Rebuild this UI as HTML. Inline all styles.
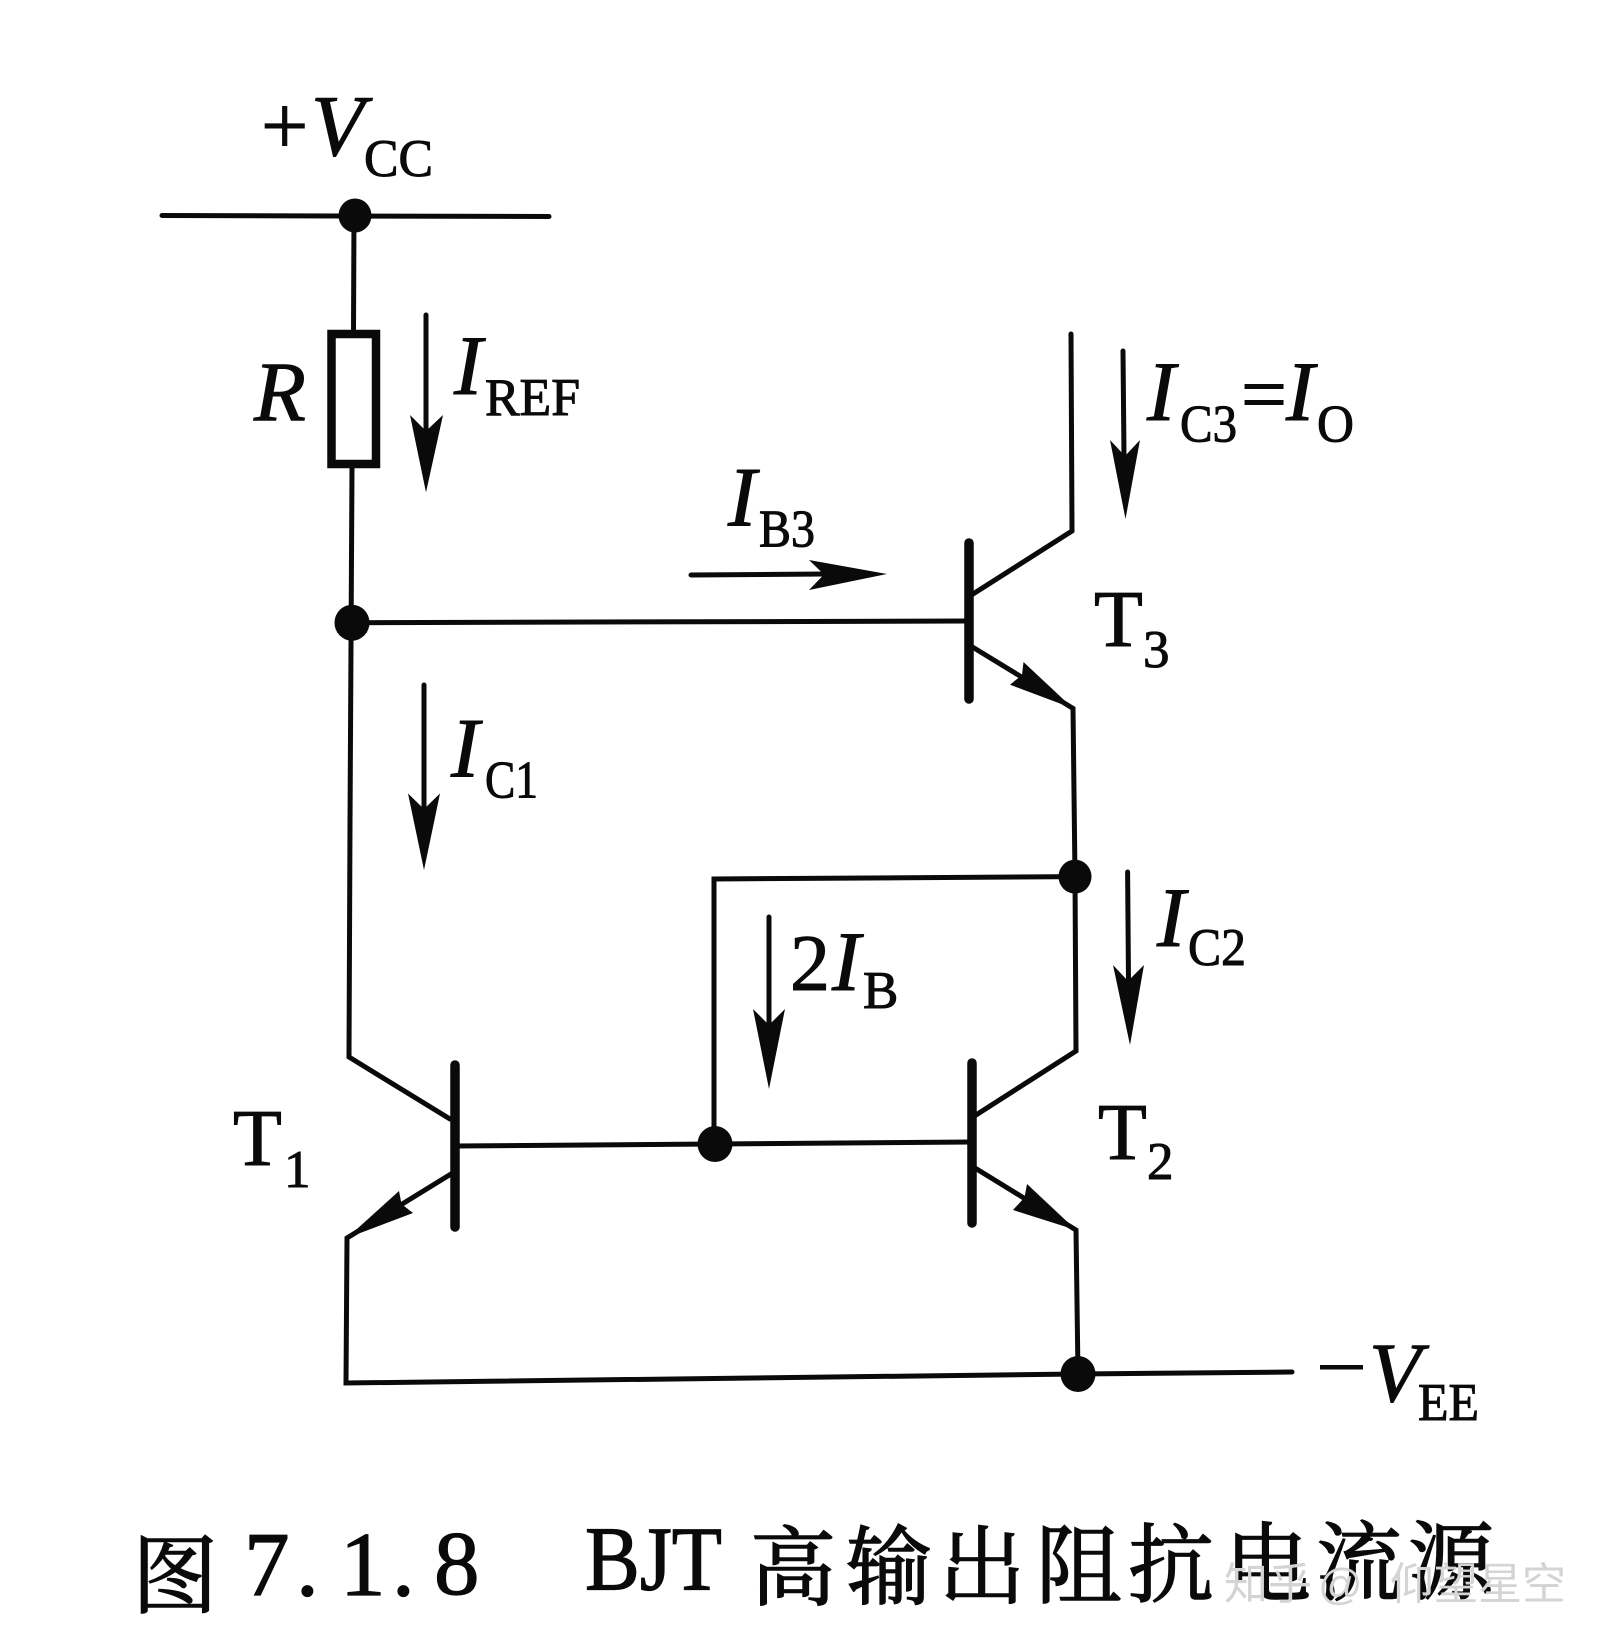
<!DOCTYPE html>
<html><head><meta charset="utf-8"><title>BJT</title>
<style>
html,body{margin:0;padding:0;background:#fff}
svg{display:block}
text{font-family:"Liberation Serif","Noto Serif CJK SC",serif;fill:#0a0a0a;stroke:#0a0a0a;stroke-width:1}
.i{font-style:italic;font-size:85px}
.s{font-size:53px}
.t{font-size:80px}
.c{font-size:86px;stroke-width:1.5}
.n{font-size:91px;stroke-width:1.2}
.w{font-family:"Liberation Sans","Noto Sans CJK SC",sans-serif;font-size:44px;fill:#d4d4d4;stroke:none}
</style></head><body>
<svg width="1608" height="1649" viewBox="0 0 1608 1649" xmlns="http://www.w3.org/2000/svg">
<rect width="1608" height="1649" fill="#fff"/>
<g fill="none" stroke="#0a0a0a" stroke-width="5" stroke-linecap="round" stroke-linejoin="miter">
<line x1="162" y1="215.5" x2="549" y2="216.5"/>
<line x1="354" y1="215" x2="353.5" y2="331"/>
<polyline points="352,467 350,824 349,1057 450,1119"/>
<rect x="331.5" y="334" width="44.5" height="130" stroke-width="8.5"/>
<line x1="352" y1="622.7" x2="969" y2="621"/>
<polyline points="1071,334 1072,531 973,594"/>
<polyline points="973,647.4 1073,708.4 1075,876.6 1076,1051 976,1115"/>
<polyline points="976,1168.6 1076,1230 1078,1374"/>
<polyline points="1292,1372 1078,1374 346,1383 347,1238 451,1174"/>
<line x1="455" y1="1146" x2="972" y2="1142"/>
<polyline points="714,1144 714,879 1075,876.6"/>
<line x1="426" y1="315" x2="426" y2="431"/>
<line x1="424" y1="685" x2="424" y2="809"/>
<line x1="691" y1="575" x2="825" y2="574"/>
<line x1="1123" y1="351" x2="1124" y2="456"/>
<line x1="769" y1="917" x2="769" y2="1025"/>
<line x1="1127.6" y1="872" x2="1128.5" y2="981"/>
</g>
<g stroke="#0a0a0a" stroke-width="9.5" stroke-linecap="round">
<line x1="969" y1="543" x2="969" y2="699"/>
<line x1="972" y1="1063" x2="972" y2="1223"/>
<line x1="455" y1="1065" x2="455" y2="1227"/>
</g>
<g fill="#0a0a0a">
<ellipse cx="355" cy="215.5" rx="16.5" ry="17"/>
<ellipse cx="352" cy="622.7" rx="17.5" ry="18"/>
<ellipse cx="1075" cy="876.6" rx="16.5" ry="17"/>
<ellipse cx="715" cy="1144" rx="17.5" ry="18"/>
<ellipse cx="1078" cy="1374" rx="17.5" ry="18"/>
<polygon points="410,415 426,431 443,415 426,492.4"/>
<polygon points="408,793.5 424,809 440,793.5 424,870"/>
<polygon points="753,1009 769,1025 785,1009 769,1089"/>
<polygon points="1110,440 1125,456 1140,440 1125.5,519"/>
<polygon points="1113,965 1128,981 1144,965 1130,1045"/>
<polygon points="809,560 824,574.5 809,590 887,574"/>
<polygon points="1023.5,662 1022,675 1010,684.7 1073,708.4"/>
<polygon points="1027,1184 1024.5,1197.6 1013,1210 1076,1230"/>
<polygon points="399,1191 401.5,1204 413,1213 347,1238"/>
</g>
<text class="t" x="261" y="154" style="font-size:84px">+</text>
<text class="i" x="311" y="155" style="font-size:87px">V</text>
<text class="s" x="364" y="176" textLength="69" lengthAdjust="spacingAndGlyphs">CC</text>
<text class="i" x="254" y="420.4">R</text>
<text class="i" x="454" y="394">I</text>
<text class="s" x="485" y="415" textLength="95" lengthAdjust="spacingAndGlyphs">REF</text>
<text class="i" x="728" y="525.5">I</text>
<text class="s" x="759" y="546.5" textLength="56" lengthAdjust="spacingAndGlyphs">B3</text>
<text class="i" x="451" y="776.7">I</text>
<text class="s" x="485" y="797.7" textLength="53" lengthAdjust="spacingAndGlyphs">C1</text>
<text class="i" x="1147" y="420">I</text>
<text class="s" x="1180" y="441.4" textLength="57" lengthAdjust="spacingAndGlyphs">C3</text>
<text class="t" x="1241" y="421" textLength="46" lengthAdjust="spacingAndGlyphs">=</text>
<text class="i" x="1286" y="420">I</text>
<text class="s" x="1317" y="441.4" textLength="37" lengthAdjust="spacingAndGlyphs">O</text>
<text class="t" x="1094" y="646">T</text>
<text class="s" x="1143" y="667">3</text>
<text class="t" x="233" y="1165">T</text>
<text class="s" x="284" y="1187">1</text>
<text class="t" x="1098" y="1159">T</text>
<text class="s" x="1147" y="1179">2</text>
<text class="t" x="790" y="990">2</text>
<text class="i" x="832" y="990">I</text>
<text class="s" x="863" y="1008">B</text>
<text class="i" x="1157" y="946">I</text>
<text class="s" x="1188" y="965" textLength="58" lengthAdjust="spacingAndGlyphs">C2</text>
<rect x="1320" y="1365" width="43" height="4.5" fill="#0a0a0a"/>
<text class="i" x="1369" y="1401" style="font-size:85px">V</text>
<text class="s" x="1418" y="1420" textLength="61" lengthAdjust="spacingAndGlyphs">EE</text>
<text class="c" x="132" y="1606">图</text>
<text class="n" x="244" y="1595">7</text>
<text class="n" x="296" y="1595">.</text>
<text class="n" x="340" y="1595">1</text>
<text class="n" x="392" y="1595">.</text>
<text class="n" x="434" y="1594">8</text>
<text class="n" x="585" y="1589.5" textLength="137" lengthAdjust="spacingAndGlyphs">BJT</text>
<text class="c" x="750" y="1598">高</text>
<text class="c" x="846" y="1597">输</text>
<text class="c" x="939" y="1597">出</text>
<text class="c" x="1036" y="1596">阻</text>
<text class="c" x="1128" y="1595">抗</text>
<text class="c" x="1225" y="1594">电</text>
<text class="c" x="1316" y="1593">流</text>
<text class="c" x="1408" y="1592">源</text>
<text class="w" x="1224" y="1599">知乎</text>
<text class="w" x="1318" y="1599">@</text>
<text class="w" x="1390" y="1599">仰望星空</text>
</svg>
</body></html>
